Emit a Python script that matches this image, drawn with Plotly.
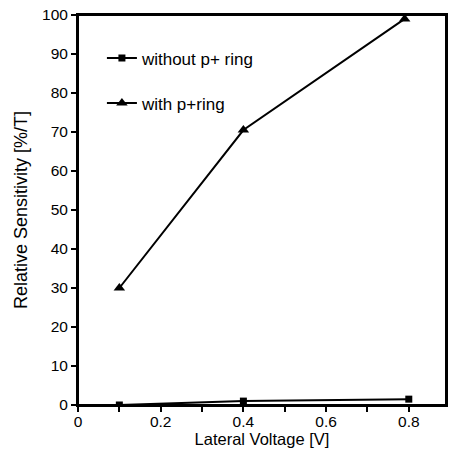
import plotly.graph_objects as go

voltage_with = [0.1, 0.4, 0.79]
sens_with = [30, 70.5, 99]
voltage_without = [0.1, 0.4, 0.8]
sens_without = [0.0, 1.0, 1.5]
x_ticks = [0, 0.2, 0.4, 0.6, 0.8]
x_tick_labels = ["0", "0.2", "0.4", "0.6", "0.8"]
y_ticks = list(range(0, 101, 10))

fig = go.Figure()
fig.add_trace(go.Scatter(x=voltage_without, y=sens_without, mode="lines+markers",
                         name="without p+ ring", legendgroup="a",
                         line=dict(color="black", width=2),
                         marker=dict(symbol="square", size=7, color="black")))
fig.add_trace(go.Scatter(x=voltage_with, y=sens_with, mode="lines+markers",
                         name="with p+ring", legendgroup="b",
                         line=dict(color="black", width=2),
                         marker=dict(symbol="triangle-up", size=10, color="black")))

fig.update_layout(
    width=450, height=452,
    margin=dict(l=78, r=4, t=15, b=47),
    paper_bgcolor="white", plot_bgcolor="white",
    font=dict(family="Liberation Sans, Arial", size=15.5, color="black"),
    showlegend=True,
    legend=dict(x=0.065, y=0.935, xanchor="left", yanchor="top",
                bgcolor="rgba(0,0,0,0)", traceorder="grouped",
                tracegroupgap=20, font=dict(size=17, color="black")),
    xaxis=dict(range=[0, 0.89], tickvals=x_ticks, ticktext=x_tick_labels,
               ticks="outside", ticklen=5, tickwidth=1.5, tickcolor="black",
               tickfont=dict(color="black"), ticklabelstandoff=-4,
               showline=True, linecolor="black", linewidth=2, mirror=True,
               showgrid=False, zeroline=False, automargin=False,
               minor=dict(dtick=0.1, ticks="outside", ticklen=5, tickcolor="black", showgrid=False),
               title=dict(text="Lateral Voltage [V]", font=dict(size=16.5, color="black"), standoff=0)),
    yaxis=dict(range=[0, 100], tickvals=y_ticks,
               ticks="outside", ticklen=5, tickwidth=1.5, tickcolor="black",
               tickfont=dict(color="black"),
               showline=True, linecolor="black", linewidth=2, mirror=True,
               showgrid=False, zeroline=False, automargin=False,
               title=dict(text="Relative Sensitivity [%/T]", font=dict(size=18, color="black"), standoff=10)),
    shapes=[dict(type="rect", xref="paper", yref="paper", x0=0, x1=1, y0=0, y1=1,
                 line=dict(color="black", width=2), layer="above")],
)

fig.write_html("out.html", config={"displayModeBar": False},
               post_script="document.body.style.margin='0';document.body.style.overflow='hidden';")
